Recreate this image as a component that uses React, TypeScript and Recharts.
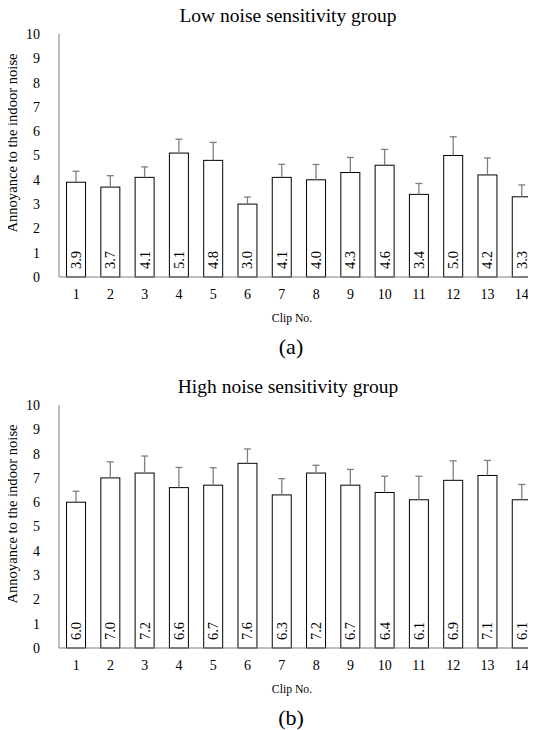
import React from "react";
import { BarChart, Bar, XAxis, YAxis, LabelList } from "recharts";

const clips = ["1", "2", "3", "4", "5", "6", "7", "8", "9", "10", "11", "12", "13", "14"];
const lowMeans = [3.9, 3.7, 4.1, 5.1, 4.8, 3.0, 4.1, 4.0, 4.3, 4.6, 3.4, 5.0, 4.2, 3.3];
const lowErrors = [0.45, 0.47, 0.43, 0.57, 0.74, 0.29, 0.54, 0.63, 0.62, 0.65, 0.45, 0.77, 0.7, 0.49];
const highMeans = [6.0, 7.0, 7.2, 6.6, 6.7, 7.6, 6.3, 7.2, 6.7, 6.4, 6.1, 6.9, 7.1, 6.1];
const highErrors = [0.45, 0.66, 0.7, 0.83, 0.72, 0.59, 0.67, 0.32, 0.65, 0.67, 0.97, 0.8, 0.62, 0.63];
const yTicks = [0, 1, 2, 3, 4, 5, 6, 7, 8, 9, 10];

const font = "'Liberation Serif', 'Times New Roman', serif";

const build = (means: number[], errs: number[]) =>
  clips.map((clip, i) => ({ clip, mean: means[i], err: errs[i] }));

// white bar with a one-sided (upward) gray error bar
const BarWithError = (props: any) => {
  const { x, y, width, height, payload } = props;
  const unit = height / payload.mean;
  const cx = x + width / 2;
  const top = y - payload.err * unit;
  return (
    <g>
      <rect x={x} y={y} width={width} height={height} fill="#fff" stroke="#000" strokeWidth={1} />
      <line x1={cx} x2={cx} y1={y} y2={top} stroke="#7f7f7f" strokeWidth={1.3} />
      <line x1={cx - 3.5} x2={cx + 3.5} y1={top} y2={top} stroke="#7f7f7f" strokeWidth={1.3} />
    </g>
  );
};

const ValueLabel = (props: any) => {
  const { x, y, width, height, value } = props;
  return (
    <text
      transform={`translate(${x + width / 2 + 5}, ${y + height - 8}) rotate(-90)`}
      fontSize={14.5}
      fontFamily={font}
      fill="#000"
      textAnchor="start"
    >
      {Number(value).toFixed(1)}
    </text>
  );
};

const Text = ({ x, y, size, children, rotate }: any) => (
  <div
    style={{
      position: "absolute",
      left: x,
      top: y,
      fontSize: size,
      lineHeight: 1,
      whiteSpace: "nowrap",
      transform: `translate(-50%, -50%)${rotate ? " rotate(-90deg)" : ""}`,
    }}
  >
    {children}
  </div>
);

const Panel = ({ data, top, title, tag }: any) => (
  <>
    <Text x={288} y={top + 16} size={19.5}>{title}</Text>
    <Text x={12} y={top + 143} size={14.6} rotate>Annoyance to the indoor noise</Text>
    <div style={{ position: "absolute", left: 0, top }}>
      <BarChart
        width={545}
        height={310}
        data={data}
        margin={{ top: 34, right: 6, left: 0, bottom: 0 }}
        barCategoryGap="22%"
      >
        <YAxis
          width={59}
          domain={[0, 10]}
          ticks={yTicks}
          interval={0}
          axisLine={{ stroke: "#7f7f7f" }}
          tickLine={false}
          tickMargin={13}
          tick={{ fontSize: 14, fill: "#000", fontFamily: font }}
        />
        <XAxis
          dataKey="clip"
          interval={0}
          height={33}
          axisLine={{ stroke: "#7f7f7f" }}
          tickLine={false}
          tickMargin={6}
          tick={{ fontSize: 14, fill: "#000", fontFamily: font }}
        />
        <Bar dataKey="mean" shape={BarWithError} isAnimationActive={false}>
          <LabelList dataKey="mean" content={ValueLabel} />
        </Bar>
      </BarChart>
    </div>
    <Text x={292} y={top + 319} size={11.7}>Clip No.</Text>
    <Text x={291} y={top + 347} size={22}>{tag}</Text>
  </>
);

export default function App() {
  return (
    <div style={{ position: "relative", width: 528, height: 722 }}>
      <div
        style={{
          position: "absolute",
          left: -8,
          top: -8,
          width: 536,
          height: 730,
          overflow: "hidden",
          background: "#fff",
          fontFamily: font,
          color: "#000",
        }}
      >
        <Panel data={build(lowMeans, lowErrors)} top={0} title="Low noise sensitivity group" tag="(a)" />
        <Panel data={build(highMeans, highErrors)} top={370.5} title="High noise sensitivity group" tag="(b)" />
      </div>
    </div>
  );
}
